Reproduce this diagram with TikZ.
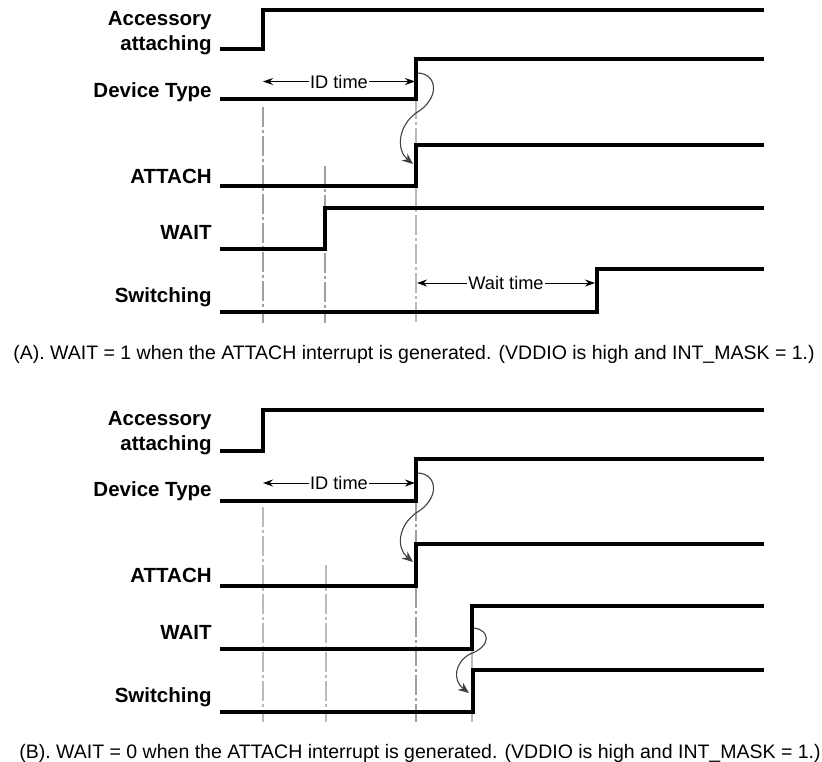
\documentclass[tikz,border=0pt]{standalone}
\usepackage{fontspec}
\setmainfont{Liberation Sans}
\usetikzlibrary{arrows.meta}

\begin{document}
\begin{tikzpicture}[x=0.5pt, y=-0.5pt,
        sig/.style={line width=1.55pt, black},
        guide/.style={gray!75, line width=1pt, dash pattern=on 10pt off 1.5pt on 1.5pt off 1.5pt},
        faint/.style={gray!55, line width=0.6pt, dash pattern=on 10pt off 1.5pt on 1.5pt off 1.5pt},
        span/.style={<->, >={Stealth[length=5pt,width=3.5pt]}, line width=0.5pt},
        cause/.style={-{Stealth[length=5.5pt,width=4.5pt]}, line width=0.55pt, black!75},
        signame/.style={anchor=base east, inner sep=0pt, font=\bfseries\fontsize{10.25}{12.75}\selectfont},
        spantext/.style={fill=white, inner sep=0.6pt, font=\fontsize{9.1}{11}\selectfont},
        captext/.style={anchor=base west, inner sep=0pt, font=\fontsize{9.75}{12}\selectfont}]
    \useasboundingbox (0,0) rectangle (822,761);

    % (A) WAIT = 1
    \node[signame, anchor=east, align=right] (accA) at (212,33) {Accessory\\attaching};
    \node[signame] (devA) at (212,97) {Device Type};
    \node[signame] (attA) at (212,183) {ATTACH};
    \node[signame] (waitA) at (212,239) {WAIT};
    \node[signame] (swA) at (212,302) {Switching};

    \draw[guide] (263,107) -- (263,323);
    \draw[guide] (325,166) -- (325,323);
    \draw[faint] (416,99) -- (416,323);

    \draw[sig] (220,49) -| (263,10) -- (764,10);
    \draw[sig] (220,99) -| (416,59) -- (764,59);
    \draw[sig] (220,186) -| (416,145) -- (764,145);
    \draw[sig] (220,249) -| (325,208) -- (764,208);
    \draw[sig] (220,312) -| (597,269) -- (764,269);

    \draw[span] (263,81.5) -- (415,81.5) node[midway, spantext] (idA) {ID time};
    \draw[span] (417,283) -- (595,283) node[midway, spantext] (wtA) {Wait time};
    \draw[cause] (418,73) .. controls (438,74) and (440,99) .. (416,113)
        .. controls (398,126) and (396,150) .. (413,164);

    \node[captext] (capA) at (13,359) {(A). WAIT = 1 when the ATTACH interrupt is generated. (VDDIO is high and INT\_MASK = 1.)};

    % (B) WAIT = 0
    \node[signame, anchor=east, align=right] (accB) at (212,433) {Accessory\\attaching};
    \node[signame] (devB) at (212,496) {Device Type};
    \node[signame] (attB) at (212,582) {ATTACH};
    \node[signame] (waitB) at (212,639) {WAIT};
    \node[signame] (swB) at (212,702) {Switching};

    \draw[faint] (263,507) -- (263,722);
    \draw[faint] (326,565) -- (326,722);
    \draw[guide] (416,501) -- (416,722);
    \draw[faint] (472,649) -- (472,722);

    \draw[sig] (220,451) -| (263,410) -- (764,410);
    \draw[sig] (220,501) -| (416,459) -- (764,459);
    \draw[sig] (220,586) -| (416,544) -- (764,544);
    \draw[sig] (220,649) -| (472,606) -- (764,606);
    \draw[sig] (220,712) -| (473,670) -- (764,670);

    \draw[span] (263,483) -- (415,483) node[midway, spantext] (idB) {ID time};
    \draw[cause] (418,473) .. controls (438,474) and (440,499) .. (416,513)
        .. controls (398,526) and (396,548) .. (413,562);
    \draw[cause] (474,628) .. controls (490,630) and (492,646) .. (470,654)
        .. controls (455,662) and (452,680) .. (469,693);

    \node[captext] (capB) at (19,758) {(B). WAIT = 0 when the ATTACH interrupt is generated. (VDDIO is high and INT\_MASK = 1.)};
\end{tikzpicture}
\end{document}
